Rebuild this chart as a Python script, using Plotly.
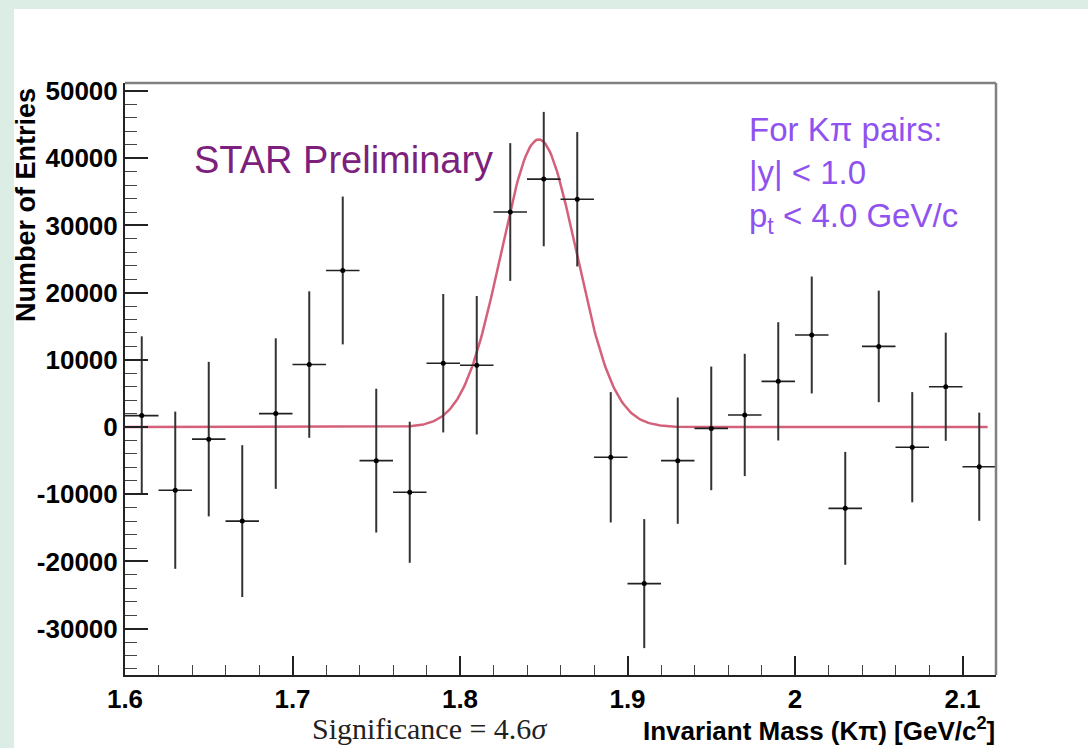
import numpy as np
import plotly.graph_objects as go

# Kpi invariant-mass bins (bin centres, GeV/c^2) and background-subtracted entries
mass = [1.61, 1.63, 1.65, 1.67, 1.69, 1.71, 1.73, 1.75, 1.77, 1.79, 1.81, 1.83, 1.85,
        1.87, 1.89, 1.91, 1.93, 1.95, 1.97, 1.99, 2.01, 2.03, 2.05, 2.07, 2.09, 2.11]
entries = [1700, -9400, -1800, -14000, 2000, 9300, 23300, -5000, -9700, 9500, 9200,
           32000, 36900, 33900, -4500, -23300, -5000, -200, 1800, 6800, 13700, -12100,
           12000, -3000, 6000, -5900]
entry_err = [11800, 11700, 11500, 11300, 11200, 10900, 11000, 10700, 10500, 10300, 10300,
             10250, 10000, 10000, 9700, 9600, 9400, 9200, 9100, 8800, 8700, 8400,
             8300, 8200, 8050, 8050]
bin_half_width = 0.01

# axis tick labels
x_tick_vals = [1.6, 1.7, 1.8, 1.9, 2.0, 2.1]
x_tick_text = ["1.6", "1.7", "1.8", "1.9", "2", "2.1"]
y_tick_vals = [-30000, -20000, -10000, 0, 10000, 20000, 30000, 40000, 50000]
y_tick_text = ["-30000", "-20000", "-10000", "0", "10000", "20000", "30000",
               "40000", "50000"]

# Gaussian fit to the D0 peak
fit_amp = 42800
fit_mean = 1.847
fit_sigma = 0.0225
fit_x = np.linspace(1.6, 2.115, 600)
fit_y = fit_amp * np.exp(-0.5 * ((fit_x - fit_mean) / fit_sigma) ** 2)

X_RANGE = [1.6, 2.12]
Y_RANGE = [-36900, 51200]

# page geometry (pixels) used to place decorations in paper coordinates
W, H = 1088, 748
L, R, T, B = 125, 996, 83, 675


def px(x):
    return (x - L) / (R - L)


def py(y):
    return (B - y) / (B - T)


fig = go.Figure()

fig.add_trace(go.Scatter(
    x=fit_x, y=fit_y, mode="lines",
    line=dict(color="#d4607a", width=2.5),
    hoverinfo="skip", showlegend=False,
))

fig.add_trace(go.Scatter(
    x=mass, y=entries, mode="markers",
    marker=dict(color="black", size=5),
    error_x=dict(type="constant", value=bin_half_width, color="#222222",
                 thickness=1.6, width=0),
    error_y=dict(type="data", array=entry_err, color="#333333",
                 thickness=2, width=0),
    showlegend=False,
))

tick_font = dict(family="Liberation Sans, Arial, sans-serif", size=26,
                 color="black", weight="bold")

fig.update_xaxes(
    range=X_RANGE, tickmode="array", tickvals=x_tick_vals, ticktext=x_tick_text,
    ticks="inside", ticklen=19, tickwidth=1.6, tickcolor="#222222",
    minor=dict(ticks="inside", dtick=0.02, tick0=1.6, ticklen=10, tickwidth=1.3,
               tickcolor="#444444", showgrid=False),
    showline=True, linecolor="#222222", linewidth=2,
    showgrid=False, zeroline=False, tickfont=tick_font,
)
fig.update_yaxes(
    range=Y_RANGE, tickmode="array", tickvals=y_tick_vals, ticktext=y_tick_text,
    ticks="inside", ticklen=23, tickwidth=1.6, tickcolor="#222222",
    minor=dict(ticks="inside", dtick=2000, tick0=0, ticklen=12, tickwidth=1.3,
               tickcolor="#444444", showgrid=False),
    showline=True, linecolor="#222222", linewidth=2,
    showgrid=False, zeroline=False, tickfont=tick_font,
)

shapes = [
    # mint slide border on the top and left edges
    dict(type="rect", xref="paper", yref="paper",
         x0=px(0), x1=px(W), y0=py(9), y1=py(0),
         fillcolor="#dcede5", line=dict(width=0), layer="below"),
    dict(type="rect", xref="paper", yref="paper",
         x0=px(0), x1=px(14), y0=py(H), y1=py(0),
         fillcolor="#dcede5", line=dict(width=0), layer="below"),
    # grey top and right frame of the histogram box
    dict(type="line", xref="paper", yref="paper", x0=0, x1=1, y0=1, y1=1,
         line=dict(color="#808080", width=2.5)),
    dict(type="line", xref="paper", yref="paper", x0=1, x1=1, y0=0, y1=1,
         line=dict(color="#808080", width=2.5)),
]

annotations = [
    dict(text="STAR Preliminary", x=px(192), y=py(160), xref="paper", yref="paper",
         xanchor="left", yanchor="middle", showarrow=False,
         font=dict(family="Liberation Sans, Arial, sans-serif", size=38, color="#7d1f7d")),
    dict(text="For Kπ pairs:<br>|y| &lt; 1.0<br>p<sub>t</sub> &lt; 4.0 GeV/c",
         x=px(747), y=py(175), xref="paper", yref="paper",
         xanchor="left", yanchor="middle", align="left", showarrow=False,
         font=dict(family="Liberation Sans, Arial, sans-serif", size=33, color="#8f52ef")),
    dict(text="Number of Entries", x=px(26), y=py(205), xref="paper", yref="paper",
         xanchor="center", yanchor="middle", textangle=-90, showarrow=False,
         font=dict(family="Liberation Sans, Arial, sans-serif", size=27,
                   color="black", weight="bold")),
    dict(text="Invariant Mass (Kπ) [GeV/c<sup>2</sup>]",
         x=px(997), y=py(729), xref="paper", yref="paper",
         xanchor="right", yanchor="middle", showarrow=False,
         font=dict(family="Liberation Sans, Arial, sans-serif", size=26,
                   color="black", weight="bold")),
    dict(text="Significance = 4.6<i>σ</i>", x=px(310), y=py(728),
         xref="paper", yref="paper", xanchor="left", yanchor="middle",
         showarrow=False,
         font=dict(family="Liberation Serif, Times New Roman, serif", size=30,
                   color="#222222")),
]

fig.update_layout(
    width=W, height=H,
    margin=dict(l=L, r=W - R, t=T, b=H - B, pad=0),
    paper_bgcolor="white", plot_bgcolor="white",
    shapes=shapes, annotations=annotations,
    showlegend=False,
)

fig.write_html("out.html")
